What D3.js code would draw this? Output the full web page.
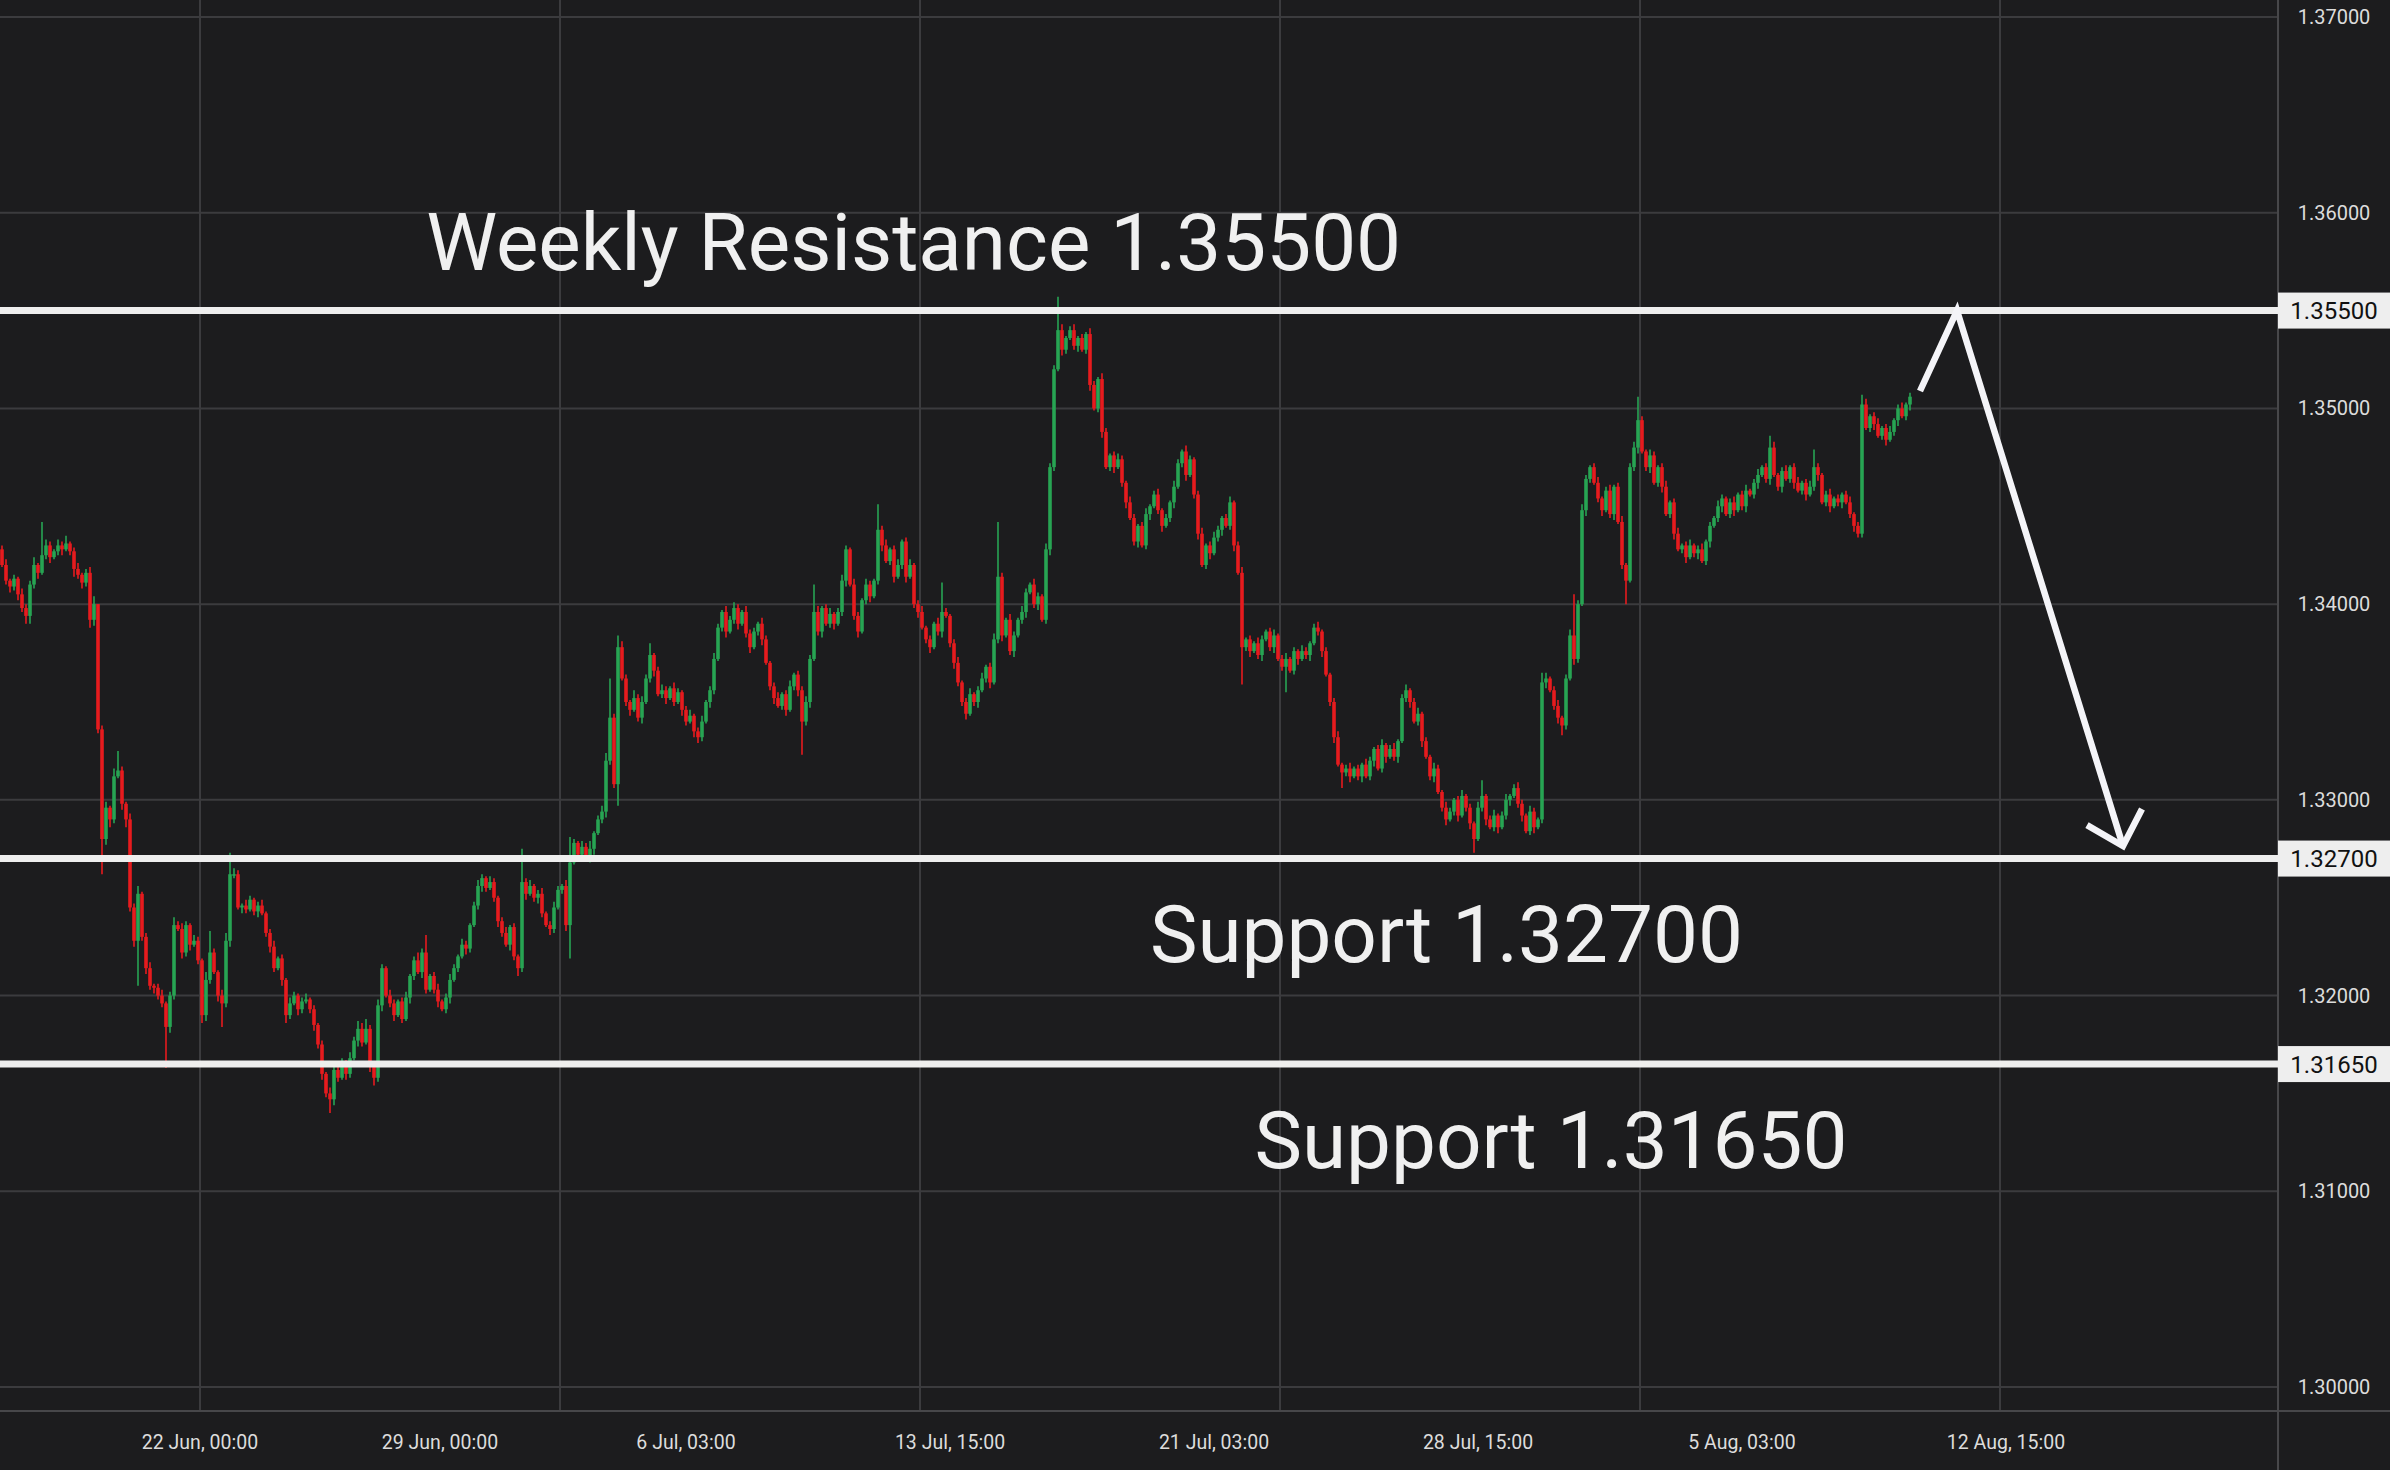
<!DOCTYPE html>
<html><head><meta charset="utf-8">
<script src="https://cdn.jsdelivr.net/npm/d3@7/dist/d3.min.js"></script>
<style>html,body{margin:0;padding:0;background:#1c1c1e;overflow:hidden}</style>
</head><body>
<svg id="c" width="2390" height="1470"></svg>
<script>
// ---------- DATA ----------
// prices in pips above 1.30000 (1 pip = 0.0001)
const basePrice = 1.30;
const firstOpen = 428;
const closes = [
420,412,409,413,405,398,394,410,420,416,425,430,424,427,430,428,431,427,418,415,
411,416,392,400,336,280,296,290,312,315,298,290,245,228,252,230,214,205,204,200,
196,184,200,236,234,222,236,226,228,218,190,208,222,212,200,196,228,262,262,245,
246,244,249,243,246,242,232,225,214,219,208,190,196,200,193,197,198,193,185,175,
160,150,147,162,158,166,160,168,177,183,176,183,165,158,195,214,200,196,190,197,
188,199,210,218,212,222,203,210,203,197,193,199,208,214,220,226,224,236,246,256,
260,255,258,250,238,232,226,235,220,214,258,252,256,250,252,242,236,234,245,254,
256,236,268,278,272,276,270,275,283,290,294,320,342,308,378,362,350,346,352,342,
350,362,374,366,354,356,352,357,350,355,346,340,343,335,332,340,350,356,372,388,
396,386,392,398,390,396,385,378,386,390,382,370,358,352,348,354,346,358,364,356,
340,350,372,396,386,398,390,395,390,396,412,428,410,394,386,402,410,404,412,438,
430,422,428,414,420,432,414,420,400,396,388,382,378,390,386,396,394,380,370,360,
350,344,354,350,356,362,368,360,382,414,384,392,376,384,392,396,406,410,400,404,
392,428,470,520,540,530,536,540,532,536,530,538,512,500,515,488,470,476,470,474,
462,452,444,432,440,430,446,450,456,448,440,444,452,460,472,478,466,474,456,436,
420,430,426,434,438,444,440,452,430,416,378,382,376,380,374,382,386,378,384,372,
368,372,366,376,372,376,374,380,388,386,376,364,350,332,318,314,316,312,316,312,
318,312,320,326,316,328,322,326,322,330,352,356,350,340,344,330,322,312,316,304,
296,290,294,300,292,302,296,288,280,296,302,290,286,292,286,292,300,302,306,298,
292,284,294,286,290,360,362,356,348,342,338,362,384,372,400,448,464,470,462,454,
448,458,446,460,442,420,412,470,480,494,478,470,476,462,470,460,446,452,436,428,
430,424,430,426,428,422,432,440,444,450,454,446,452,448,456,450,458,456,462,466,
470,464,480,466,460,468,464,470,462,458,462,456,460,470,466,452,456,450,454,452,
456,452,446,440,436,502,490,496,492,486,490,484,488,494,500,496,502,506
];
const wickUp = [
2,3,1,2,1,3,2,2,4,1,17,3,2,1,3,2,4,1,2,3,
1,2,3,4,0,2,3,1,4,10,2,1,3,2,4,1,2,3,1,2,
3,1,2,4,2,3,2,1,3,2,1,4,11,2,1,3,4,11,3,2,
1,3,2,1,2,3,1,2,3,1,2,1,3,2,1,2,3,1,2,1,
2,1,3,2,4,2,1,3,2,4,3,5,2,1,3,2,1,3,2,1,
2,3,1,2,4,2,9,1,2,3,1,2,3,2,1,3,2,1,2,3,
2,1,3,2,1,2,3,1,2,1,17,2,3,1,2,3,1,2,3,2,
1,3,13,2,1,3,2,4,1,2,3,4,20,2,6,3,2,1,4,2,
3,2,6,1,2,3,2,1,3,2,1,2,3,1,2,3,1,2,3,2,
1,3,2,3,2,1,3,2,2,1,3,2,1,2,3,1,2,3,1,2,
2,3,2,14,3,1,2,3,1,2,3,2,1,3,2,1,3,2,1,13,
2,3,1,2,3,1,2,3,1,2,3,1,2,1,3,15,2,1,2,3,
1,2,3,1,2,3,1,2,3,28,2,1,3,2,1,3,2,1,3,2,
1,3,2,2,17,3,1,2,3,1,2,1,3,2,1,3,2,1,2,3,
2,1,3,2,1,2,3,1,2,3,1,2,1,3,2,1,3,2,1,2,
3,1,2,3,2,1,2,3,1,2,3,1,2,1,3,2,1,2,3,1,
2,3,1,2,1,3,2,1,2,3,1,2,1,2,3,1,2,3,1,2,
1,3,2,1,2,3,1,2,3,1,2,3,1,2,3,1,2,1,3,2,
1,3,2,1,2,3,1,2,1,3,8,1,2,3,1,2,3,1,2,3,
2,1,3,2,1,5,3,1,2,3,1,2,3,21,2,3,2,1,2,3,
1,2,3,1,2,3,1,2,3,12,2,1,3,2,1,2,3,1,2,3,
1,2,3,1,2,3,1,2,1,3,2,1,2,3,1,2,3,1,2,3,
1,2,6,3,1,2,3,1,2,3,1,2,3,9,2,1,2,3,1,2,
1,2,3,1,2,5,3,1,2,3,1,2,3,1,2,3,1,2
];
const wickDn = [
1,2,3,2,3,2,4,4,2,3,1,2,3,1,2,3,1,2,4,2,
3,2,4,3,2,18,3,4,2,1,3,4,2,3,23,2,3,2,3,2,
2,21,3,2,1,3,2,3,1,2,4,3,2,1,3,12,2,3,2,1,
3,2,1,2,3,1,2,3,2,1,3,4,2,1,3,2,1,2,3,2,
3,2,7,3,2,1,3,2,1,3,2,1,4,4,2,3,1,2,3,1,
2,1,3,2,1,3,2,1,2,3,1,2,3,1,2,1,3,2,1,2,
3,2,1,2,3,2,1,3,2,4,2,3,1,2,3,2,1,3,2,1,
2,3,17,1,2,3,1,2,3,1,2,3,2,2,11,1,2,3,1,2,
3,1,2,3,1,2,3,1,2,1,3,2,1,3,3,2,1,3,2,1,
2,3,1,2,3,1,2,3,1,2,3,1,2,3,1,2,3,1,2,3,
17,2,3,1,2,3,1,2,3,1,2,3,1,2,3,1,2,3,1,2,
3,1,2,3,1,2,3,1,2,3,1,2,3,1,2,3,1,2,3,2,
2,3,1,2,3,1,2,3,1,2,3,1,2,3,1,2,3,1,2,3,
1,2,3,2,1,3,2,1,2,3,1,2,3,1,2,3,1,2,3,1,
2,3,1,2,3,1,2,3,1,2,3,1,2,3,1,2,3,1,2,3,
1,2,3,1,2,3,1,2,3,1,19,2,3,1,2,3,1,2,3,1,
2,13,1,2,3,1,2,3,1,2,3,1,2,3,1,8,2,3,1,2,
3,1,2,3,1,2,3,1,2,3,1,2,3,1,2,3,1,2,3,1,
2,3,1,2,3,1,2,3,7,1,2,3,1,2,3,1,2,3,1,2,
3,1,2,3,1,2,3,1,2,3,5,2,1,3,2,1,3,2,1,2,
3,1,2,3,1,2,12,1,2,3,1,2,3,1,2,3,1,2,3,1,
2,3,1,2,3,1,2,3,1,2,3,1,2,3,1,2,3,1,2,3,
1,2,3,1,2,3,1,2,3,1,2,3,1,2,3,1,2,3,1,2,
3,1,2,3,2,2,1,2,3,1,2,3,1,2,3,1,2,3
];
const priceTicks = [1.30,1.31,1.32,1.33,1.34,1.35,1.36,1.37];
const levels = [1.3550, 1.3270, 1.3165];
const levelLabels = ["1.35500","1.32700","1.31650"];
const timeLabels = ["22 Jun, 00:00","29 Jun, 00:00","6 Jul, 03:00","13 Jul, 15:00","21 Jul, 03:00","28 Jul, 15:00","5 Aug, 03:00","12 Aug, 15:00"];
const timeLabelIdx = [49.5,109.5,171,237,303,369,435,501];
const gridIdx = [49.5,139.5,229.5,319.5,409.5,499.5];
const noteTexts = ["Weekly Resistance 1.35500","Support 1.32700","Support 1.31650"];
const noteIdx = [227.9, 361.1, 387.25];
const notePrice = [1.35707, 1.32171, 1.31121];
const arrowPath = [[479.5,1.35089],[488.75,1.3550],[530.25,1.32764]];
const arrowHead = [[521.25,1.32871],[530.25,1.32764],[535,1.32953]];

// ---------- CHART ----------
const W = 2390, H = 1470, plotR = 2278, plotB = 1411;
const svg = d3.select("#c");
const x = d3.scaleLinear().domain([0, 500]).range([2, 2002]);
const y = d3.scaleLinear().domain([1.30, 1.37]).range([1387, 17]);
const P = p => basePrice + p / 10000;

svg.append("rect").attr("width", W).attr("height", H).attr("fill", "#1c1c1e");
svg.append("defs").append("clipPath").attr("id", "plot")
  .append("rect").attr("x", 0).attr("y", 0).attr("width", plotR).attr("height", plotB);

const grid = svg.append("g").attr("stroke", "#3b3b3e").attr("stroke-width", 2);
grid.selectAll(".h").data(priceTicks).join("line")
  .attr("x1", 0).attr("x2", plotR).attr("y1", d => y(d)).attr("y2", d => y(d));
grid.selectAll(".v").data(gridIdx).join("line")
  .attr("x1", d => x(d)).attr("x2", d => x(d)).attr("y1", 0).attr("y2", plotB);

// axes borders
svg.append("line").attr("x1", plotR).attr("x2", plotR).attr("y1", 0).attr("y2", H)
  .attr("stroke", "#47474a").attr("stroke-width", 2);
svg.append("line").attr("x1", 0).attr("x2", W).attr("y1", plotB).attr("y2", plotB)
  .attr("stroke", "#47474a").attr("stroke-width", 2);

// candles
const candles = closes.map((c, i) => {
  const o = i === 0 ? firstOpen : closes[i - 1];
  const hi = Math.max(o, c) + (wickUp[i] || 0);
  const lo = Math.min(o, c) - (wickDn[i] || 0);
  return {i, o, c, hi, lo};
});
const cg = svg.append("g").attr("clip-path", "url(#plot)");
const up = "#27a453", dn = "#e61b1e";
cg.selectAll(".w").data(candles).join("line")
  .attr("x1", d => x(d.i)).attr("x2", d => x(d.i))
  .attr("y1", d => y(P(d.hi))).attr("y2", d => y(P(d.lo)))
  .attr("stroke", d => d.c >= d.o ? up : dn).attr("stroke-width", 1.6);
cg.selectAll(".b").data(candles).join("rect")
  .attr("x", d => x(d.i) - 1.8).attr("width", 3.6)
  .attr("y", d => y(P(Math.max(d.o, d.c))))
  .attr("height", d => Math.max(1.5, y(P(Math.min(d.o, d.c))) - y(P(Math.max(d.o, d.c)))))
  .attr("fill", d => d.c >= d.o ? up : dn);

// level lines
svg.selectAll(".lvl").data(levels).join("line")
  .attr("x1", 0).attr("x2", plotR).attr("y1", d => y(d)).attr("y2", d => y(d))
  .attr("stroke", "#eeeeee").attr("stroke-width", 7);

// arrow
const line = d3.line().x(d => x(d[0])).y(d => y(d[1]));
svg.append("path").attr("d", line(arrowPath)).attr("fill", "none")
  .attr("stroke", "#f4f4f8").attr("stroke-width", 6.5).attr("stroke-linejoin", "miter");
svg.append("path").attr("d", line(arrowHead)).attr("fill", "none")
  .attr("stroke", "#f4f4f8").attr("stroke-width", 6.5).attr("stroke-linejoin", "miter");

// annotation texts
svg.selectAll(".note").data(noteTexts).join("text")
  .attr("x", (d, i) => x(noteIdx[i])).attr("y", (d, i) => y(notePrice[i]))
  .attr("text-anchor", "middle").attr("fill", "#f0f0f0")
  .style("font-family", "Roboto").style("font-size", "80px")
  .text(d => d);

// price axis labels
svg.selectAll(".pt").data(priceTicks).join("text")
  .attr("x", 2334).attr("y", d => y(d)).attr("dy", "0.35em")
  .attr("text-anchor", "middle").attr("fill", "#dcdcdc")
  .style("font-family", "Roboto").style("font-size", "20px")
  .text(d => d3.format(".5f")(d));

// level label boxes
const lb = svg.selectAll(".lb").data(levels).join("g");
lb.append("rect").attr("x", plotR).attr("width", W - plotR)
  .attr("y", d => y(d) - 18).attr("height", 36).attr("fill", "#eeeeee");
lb.append("text").attr("x", 2334).attr("y", d => y(d)).attr("dy", "0.36em")
  .attr("text-anchor", "middle").attr("fill", "#111")
  .style("font-family", "Roboto").style("font-size", "24px")
  .text((d, i) => levelLabels[i]);

// time axis labels
svg.selectAll(".tl").data(timeLabels).join("text")
  .attr("x", (d, i) => x(timeLabelIdx[i])).attr("y", 1442).attr("dy", "0.35em")
  .attr("text-anchor", "middle").attr("fill", "#dcdcdc")
  .style("font-family", "Roboto").style("font-size", "19.5px")
  .text(d => d);
</script>
</body></html>
